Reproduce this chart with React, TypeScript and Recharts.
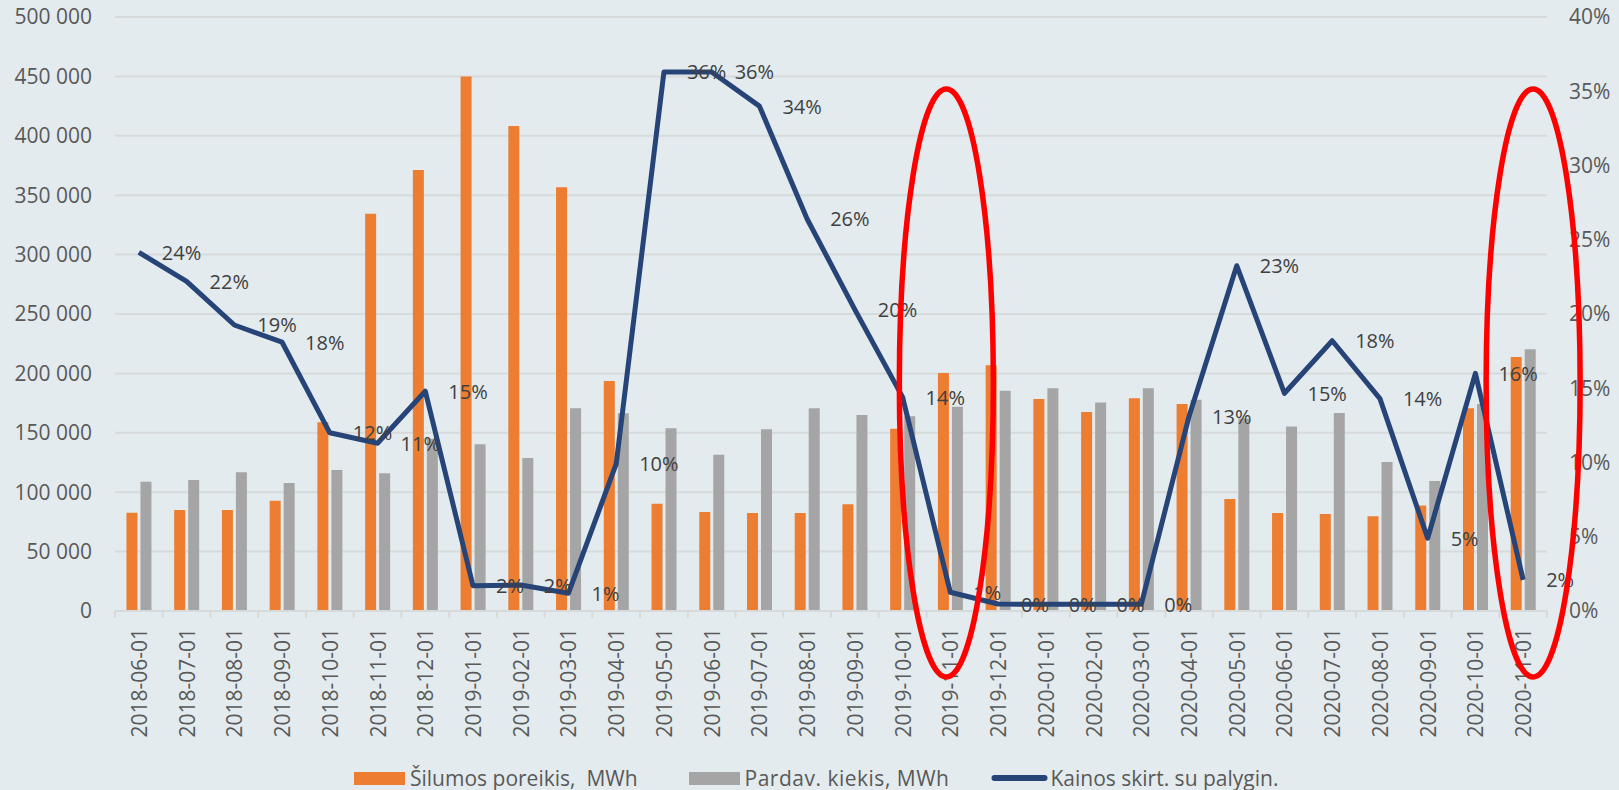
import React from 'react';
import {
  ComposedChart,
  Bar,
  Line,
  XAxis,
  YAxis,
  CartesianGrid,
  Legend,
  LabelList,
  ReferenceDot,
} from 'recharts';

const categories = [
  '2018-06-01', '2018-07-01', '2018-08-01', '2018-09-01', '2018-10-01', '2018-11-01',
  '2018-12-01', '2019-01-01', '2019-02-01', '2019-03-01', '2019-04-01', '2019-05-01',
  '2019-06-01', '2019-07-01', '2019-08-01', '2019-09-01', '2019-10-01', '2019-11-01',
  '2019-12-01', '2020-01-01', '2020-02-01', '2020-03-01', '2020-04-01', '2020-05-01',
  '2020-06-01', '2020-07-01', '2020-08-01', '2020-09-01', '2020-10-01', '2020-11-01',
];

// Šilumos poreikis, MWh
const demand = [
  82700, 85000, 85000, 92900, 158800, 334400,
  371200, 450000, 408200, 356600, 193600, 90300,
  83300, 82500, 82500, 89800, 153500, 200300,
  206800, 178500, 167500, 179000, 174200, 94300,
  82500, 81600, 79700, 88900, 170600, 213800,
];

// Pardav. kiekis, MWh
const sold = [
  108800, 110300, 116700, 107700, 118700, 115900,
  145000, 140300, 128800, 170600, 166400, 153800,
  131600, 152900, 170600, 165000, 163900, 172000,
  185400, 187400, 175400, 187400, 177800, 162000,
  155400, 166700, 125400, 109400, 174200, 220300,
];

// Kainos skirt. su palygin., %
const priceDiff = [
  24.15, 22.2, 19.26, 18.1, 12.0, 11.3,
  14.8, 1.7, 1.75, 1.2, 9.9, 36.3,
  36.3, 34.0, 26.4, 20.3, 14.4, 1.26,
  0.47, 0.45, 0.45, 0.45, 13.1, 23.25,
  14.66, 18.2, 14.3, 4.9, 16.0, 2.1,
];

const seriesNames = ['Šilumos poreikis,  MWh', 'Pardav. kiekis, MWh', 'Kainos skirt. su palygin.'];
const leftTicks = [0, 50000, 100000, 150000, 200000, 250000, 300000, 350000, 400000, 450000, 500000];
const rightTicks = [0, 5, 10, 15, 20, 25, 30, 35, 40];

// highlighted months (red ellipses) and the left-axis value at their vertical centre
const highlightMonths = ['2019-11-01', '2020-11-01'];
const highlightCenterValue = 192000;

const data = categories.map((c, i) => ({
  date: c,
  demand: demand[i],
  sold: sold[i],
  diff: priceDiff[i],
}));

const ORANGE = '#ED7D31';
const GRAY = '#A5A5A5';
const NAVY = '#264478';
const AXIS_TEXT = '#595959';
const LABEL_TEXT = '#404040';
const GRID = '#d7dadb';
const FONT = "'Open Sans', 'Noto Sans', sans-serif";

const fmtThousands = (v: number) => String(v).replace(/\B(?=(\d{3})+(?!\d))/g, ' ');

const XTick = (props: any) => {
  const { x, y, payload, index, visibleTicksCount, width } = props;
  const half =
    payload && typeof payload.offset === 'number' && payload.offset > 0
      ? payload.offset
      : width / (visibleTicksCount || categories.length) / 2;
  const axisY = y - 17;
  const isLast = index === (visibleTicksCount || categories.length) - 1;
  return (
    <g>
      <line x1={x - half} x2={x - half} y1={axisY} y2={axisY + 7} stroke={GRID} strokeWidth={2} />
      {isLast && (
        <line x1={x + half} x2={x + half} y1={axisY} y2={axisY + 7} stroke={GRID} strokeWidth={2} />
      )}
      <text
        x={x}
        y={y}
        transform={`rotate(-90, ${x}, ${y})`}
        textAnchor="end"
        dominantBaseline="central"
        fill={AXIS_TEXT}
        fontSize={21}
        fontFamily={FONT}
      >
        {payload.value}
      </text>
    </g>
  );
};

const PctLabel = (props: any) => {
  const { x, y, value } = props;
  if (x == null || y == null) return null;
  return (
    <text
      x={x + 23}
      y={y}
      dominantBaseline="central"
      fill={LABEL_TEXT}
      fontSize={20}
      fontFamily={FONT}
    >
      {Math.round(value)}%
    </text>
  );
};

const makeEllipse = (dx: number) => (props: any) => {
  const { cx, cy } = props;
  if (cx == null || cy == null) return <g />;
  return (
    <ellipse
      cx={cx + dx}
      cy={cy}
      rx={47}
      ry={294}
      fill="none"
      stroke="#FF0000"
      strokeWidth={5.5}
    />
  );
};

const LegendBox = () => (
  <div
    style={{
      display: 'flex',
      alignItems: 'center',
      height: 24,
      paddingLeft: 354,
      fontSize: 21,
      color: AXIS_TEXT,
      fontFamily: FONT,
      whiteSpace: 'pre',
      lineHeight: '24px',
    }}
  >
    <span style={{ display: 'inline-block', width: 51, height: 13, background: ORANGE, marginRight: 5 }} />
    <span style={{ marginRight: 51 }}>{seriesNames[0]}</span>
    <span style={{ display: 'inline-block', width: 51, height: 13, background: GRAY, marginRight: 5 }} />
    <span style={{ marginRight: 42, letterSpacing: 0.5 }}>{seriesNames[1]}</span>
    <svg width={57} height={14} style={{ marginRight: 2 }}>
      <line x1={3.5} x2={53.5} y1={7} y2={7} stroke={NAVY} strokeWidth={6} strokeLinecap="round" />
    </svg>
    <span>{seriesNames[2]}</span>
  </div>
);

export default function App() {
  return (
    <div
      style={{
        position: 'absolute',
        left: 0,
        top: 0,
        width: 1619,
        height: 790,
        background: '#E3EBEE',
        fontFamily: FONT,
      }}
    >
      <ComposedChart
        width={1619}
        height={790}
        data={data}
        margin={{ top: 17, right: 0, left: 0, bottom: 0 }}
        barCategoryGap="24%"
        barGap={3}
      >
        <CartesianGrid yAxisId="left" vertical={false} stroke={GRID} strokeWidth={2} />
        <XAxis
          dataKey="date"
          type="category"
          interval={0}
          height={155}
          tickLine={false}
          tickSize={0}
          tickMargin={17}
          axisLine={{ stroke: GRID, strokeWidth: 2 }}
          tick={<XTick />}
        />
        <YAxis
          yAxisId="left"
          orientation="left"
          width={115}
          domain={[0, 500000]}
          ticks={leftTicks}
          interval={0}
          tickLine={false}
          axisLine={false}
          tickSize={6}
          tickMargin={17}
          tickFormatter={fmtThousands}
          tick={{ fill: AXIS_TEXT, fontSize: 21, fontFamily: FONT }}
        />
        <YAxis
          yAxisId="right"
          orientation="right"
          width={72}
          domain={[0, 40]}
          ticks={rightTicks}
          interval={0}
          tickLine={false}
          axisLine={false}
          tickSize={6}
          tickMargin={16}
          tickFormatter={(v: number) => `${v}%`}
          tick={{ fill: AXIS_TEXT, fontSize: 21, fontFamily: FONT }}
        />
        <Bar yAxisId="left" dataKey="demand" name={seriesNames[0]} fill={ORANGE} isAnimationActive={false} />
        <Bar yAxisId="left" dataKey="sold" name={seriesNames[1]} fill={GRAY} isAnimationActive={false} />
        <Line
          yAxisId="right"
          type="linear"
          dataKey="diff"
          name={seriesNames[2]}
          stroke={NAVY}
          strokeWidth={5}
          strokeLinejoin="round"
          dot={false}
          activeDot={false}
          isAnimationActive={false}
        >
          <LabelList dataKey="diff" content={<PctLabel />} />
        </Line>
        <ReferenceDot
          yAxisId="left"
          x={highlightMonths[0]}
          y={highlightCenterValue}
          ifOverflow="visible"
          zIndex={3000}
          shape={makeEllipse(-4)}
        />
        <ReferenceDot
          yAxisId="left"
          x={highlightMonths[1]}
          y={highlightCenterValue}
          ifOverflow="visible"
          zIndex={3000}
          shape={makeEllipse(10)}
        />
        <Legend
          verticalAlign="bottom"
          height={24}
          wrapperStyle={{ left: 0, bottom: 0, width: 1619 }}
          content={() => <LegendBox />}
        />
      </ComposedChart>
    </div>
  );
}
